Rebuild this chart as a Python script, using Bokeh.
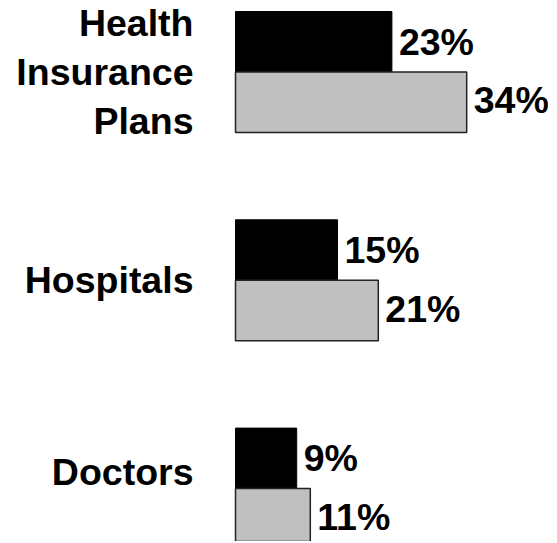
from bokeh.plotting import figure
from bokeh.models import ColumnDataSource, Range1d
from bokeh.transform import dodge
from bokeh.core.properties import value
from bokeh.embed import file_html
from bokeh.resources import INLINE

categories = ["Health\nInsurance\nPlans", "Hospitals", "Doctors"]
series_black = [23, 15, 9]
series_gray = [34, 21, 11]

idx = list(range(len(categories)))
src = ColumnDataSource(dict(
    y=idx,
    cat=categories,
    black=series_black,
    gray=series_gray,
    black_lbl=[f"{v}%" for v in series_black],
    gray_lbl=[f"{v}%" for v in series_gray],
))

W, H = 548, 541
px_x = 6.8
px_y = 208.3
x0 = -235 / px_x
y_top = -71.5 / px_y

p = figure(width=W, height=H, output_backend="svg", toolbar_location=None,
           x_range=Range1d(x0, x0 + W / px_x),
           y_range=Range1d(y_top + H / px_y, y_top),
           min_border=0)
p.axis.visible = False
p.grid.visible = False
p.outline_line_color = None

bh = 60.5 / px_y
p.hbar(y=dodge("y", -bh / 2), right="black", left=0, height=bh, source=src,
       fill_color="black", line_color="black", line_width=1)
p.hbar(y=dodge("y", bh / 2), right="gray", left=0, height=bh, source=src,
       fill_color="#c0c0c0", line_color="#222222", line_width=1.5)

font = value("Liberation Sans")
fs = "37.5px"
p.text(x="black", y=dodge("y", -bh / 2), text="black_lbl", source=src,
       x_offset=7, text_align="left", text_baseline="middle",
       text_font=font, text_font_size=fs, text_font_style="bold", text_color="black")
p.text(x="gray", y=dodge("y", bh / 2), text="gray_lbl", source=src,
       x_offset=7, y_offset=-2, text_align="left", text_baseline="middle",
       text_font=font, text_font_size=fs, text_font_style="bold", text_color="black")

top_src = ColumnDataSource(dict(y=idx[:2], cat=categories[:2], x=[0, 0]))
last_src = ColumnDataSource(dict(y=idx[2:], cat=categories[2:], x=[0]))
p.text(x="x", y="y", text="cat", source=top_src, x_offset=-42,
       text_align="right", text_baseline="middle", text_line_height=1.17,
       text_font=font, text_font_size=fs, text_font_style="bold", text_color="black")
p.text(x="x", y="y", text="cat", source=last_src, x_offset=-42, y_offset=-17,
       text_align="right", text_baseline="middle",
       text_font=font, text_font_size=fs, text_font_style="bold", text_color="black")

open("out.html", "w").write(file_html(p, INLINE))
